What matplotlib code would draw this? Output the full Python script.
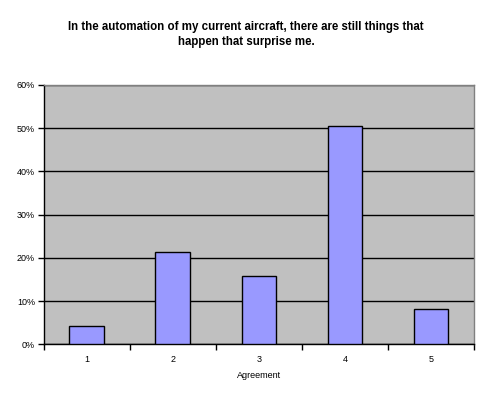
import matplotlib
matplotlib.use("Agg")
import matplotlib.pyplot as plt
from matplotlib.ticker import FuncFormatter, FixedLocator

categories = ["1", "2", "3", "4", "5"]
values = [4.2, 21.3, 15.8, 50.5, 8.2]
yticks = [0, 10, 20, 30, 40, 50, 60]
title = "In the automation of my current aircraft, there are still things that\nhappen that surprise me."
xlabel = "Agreement"

plt.rcParams['font.family'] = ['Liberation Sans', 'DejaVu Sans']

fig = plt.figure(figsize=(4.93, 4.08), dpi=100)
ax = fig.add_axes([43.5/493, (408-344.3)/408, 430.5/493, 259.3/408])
ax.set_facecolor('#C0C0C0')

x = list(range(len(categories)))
ax.bar(x, values, width=0.4, color='#9999FF', edgecolor='black', linewidth=1, zorder=3)

ax.set_xlim(-0.5, len(categories) - 0.5)
ax.set_ylim(0, 60)
ax.set_yticks(yticks)
ax.yaxis.set_major_formatter(FuncFormatter(lambda v, p: f"{int(v)}%"))
ax.yaxis.grid(True, color='black', linewidth=1, zorder=1)
ax.set_axisbelow(True)

ax.set_xticks(x)
ax.set_xticklabels(categories)
ax.xaxis.set_minor_locator(FixedLocator([i - 0.5 for i in range(len(categories) + 1)]))
ax.tick_params(axis='x', which='major', length=0, labelsize=6.5, pad=8)
ax.tick_params(axis='x', which='minor', length=4, width=1, direction='out')
ax.tick_params(axis='y', length=4, width=1, direction='out', labelsize=6.5, pad=2)

for s in ['left', 'bottom']:
    ax.spines[s].set_color('black')
    ax.spines[s].set_linewidth(1)
for s in ['top', 'right']:
    ax.spines[s].set_color('#808080')
    ax.spines[s].set_linewidth(1)

ax.set_xlabel(xlabel, fontsize=6.5, labelpad=5)
fig.text(246/493, 1 - 34.5/408, title, ha='center', va='center', fontsize=8.3,
         fontweight='bold', linespacing=1.3)

fig.savefig("out.png", dpi=100)
